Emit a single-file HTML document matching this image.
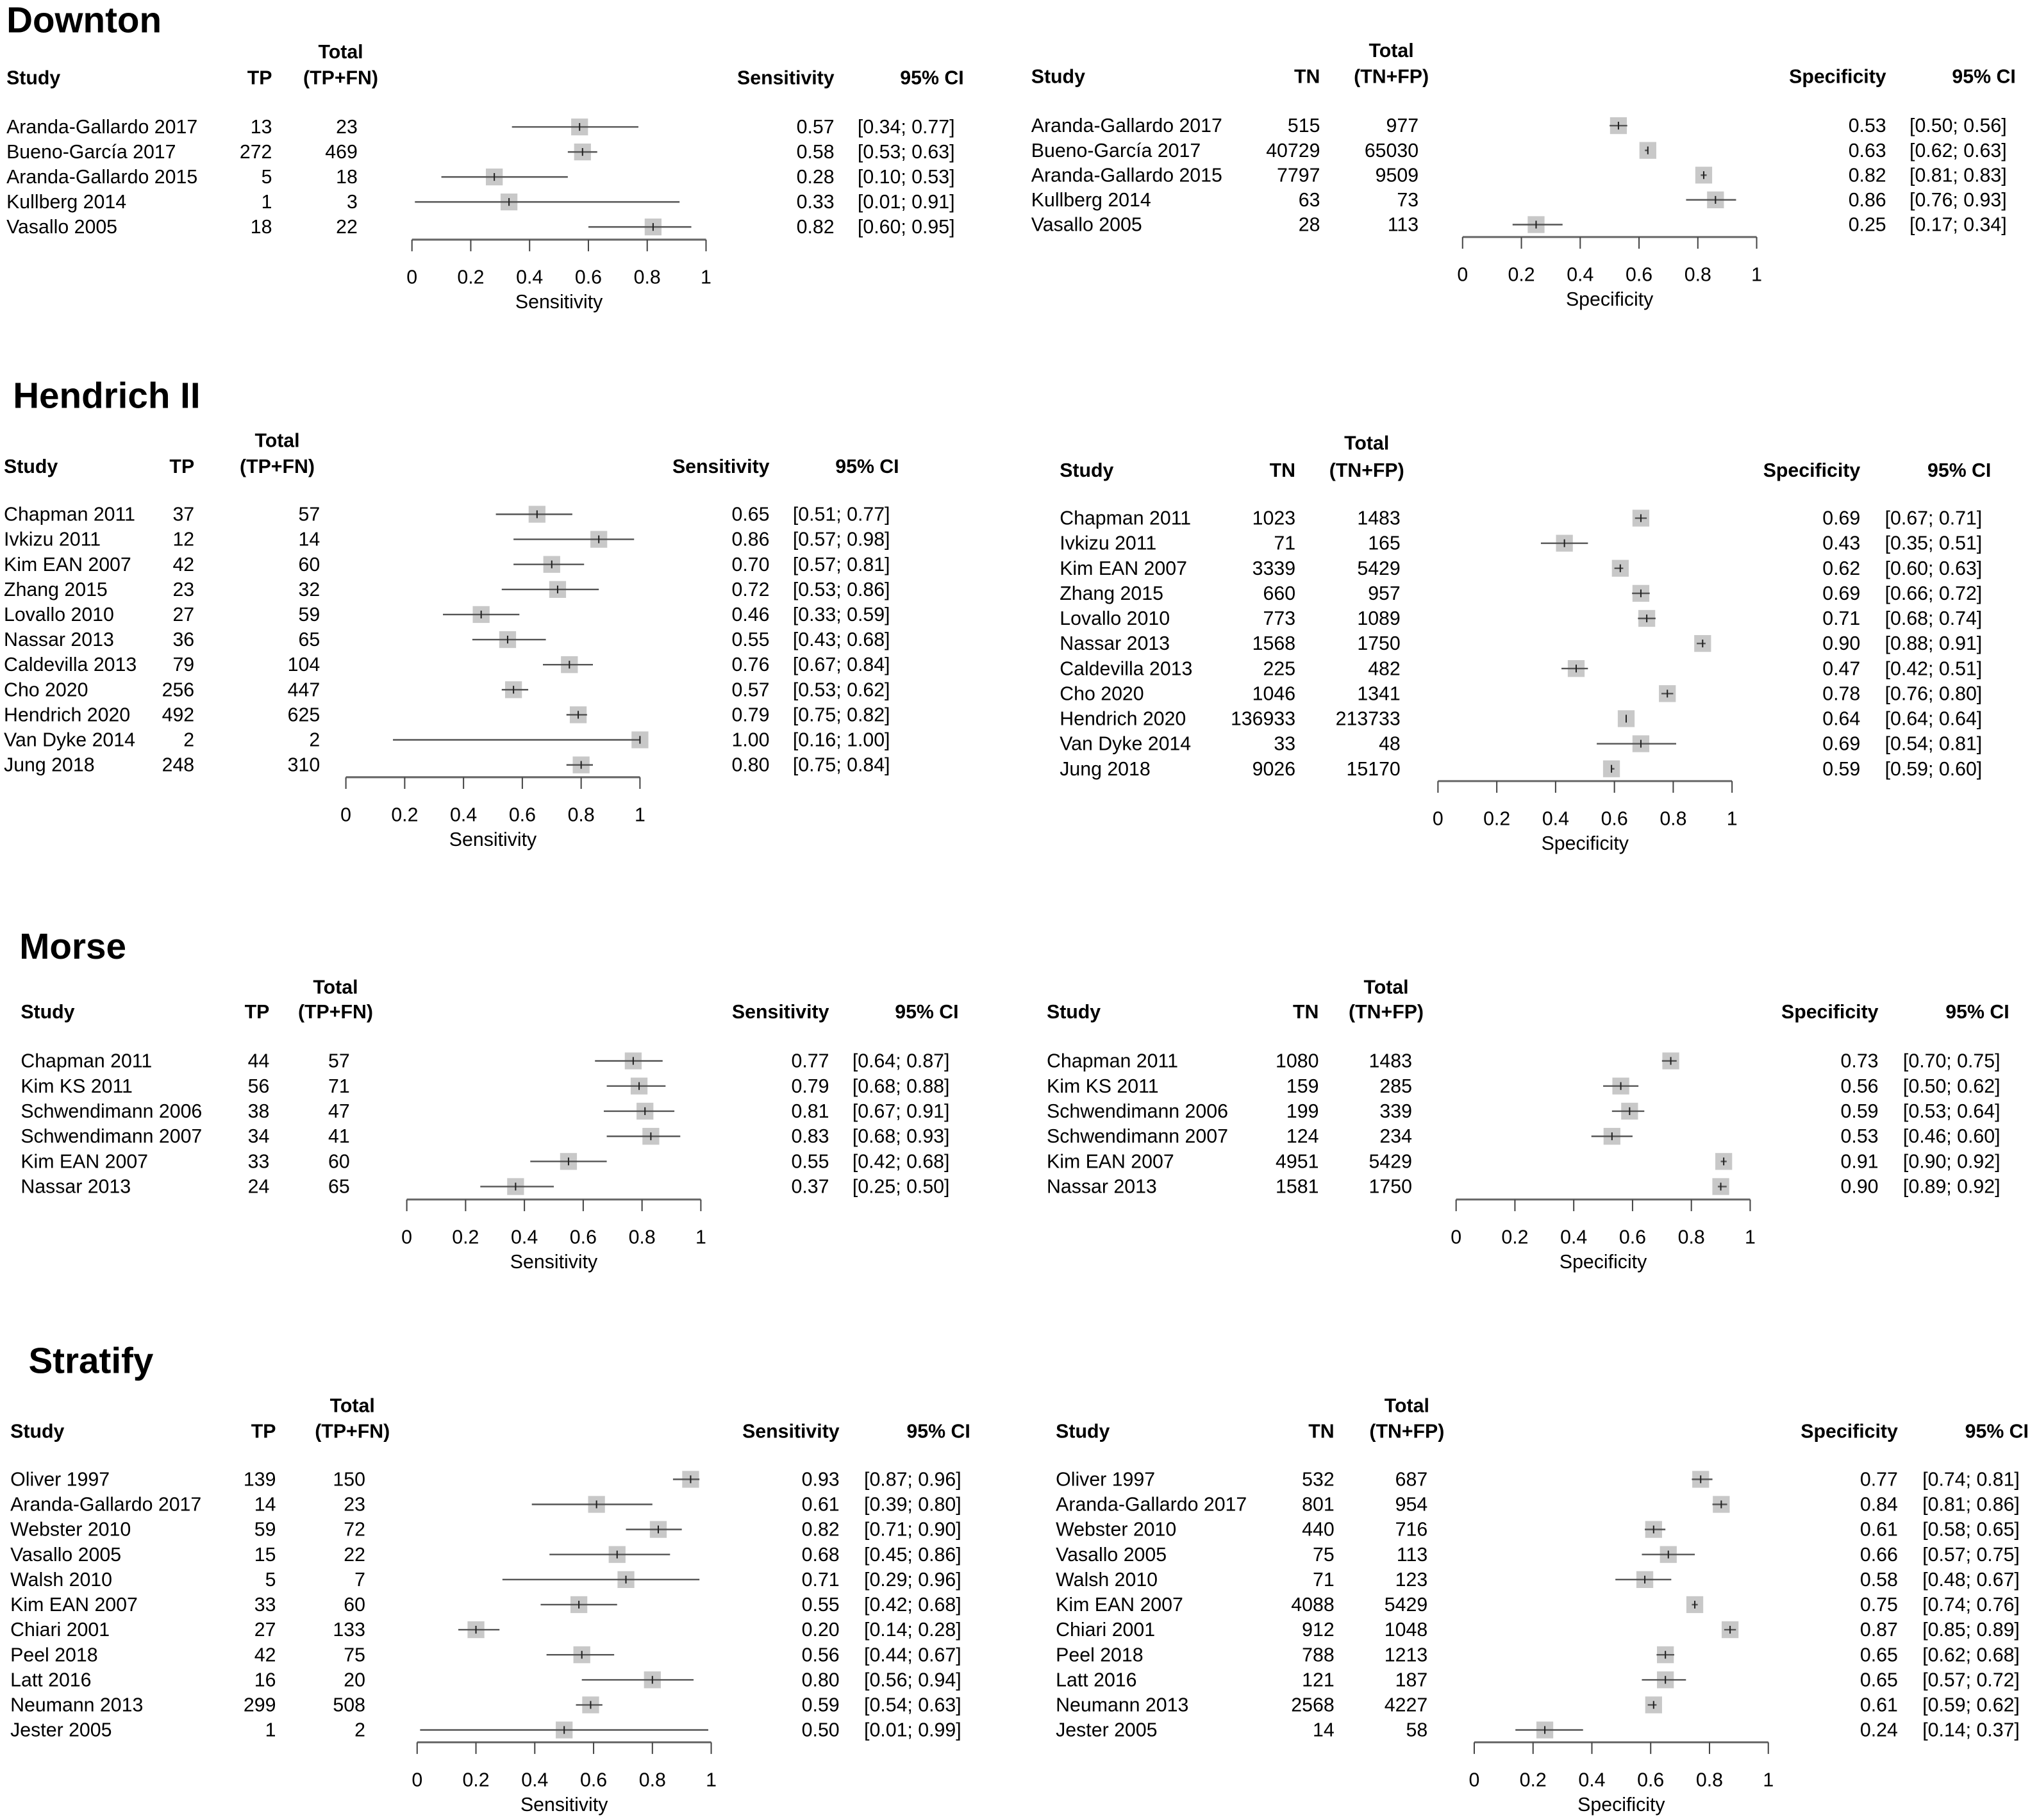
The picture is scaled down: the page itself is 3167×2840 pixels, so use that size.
<!DOCTYPE html>
<html><head><meta charset="utf-8">
<style>
html,body{margin:0;padding:0;background:#fff;}
svg{display:block;font-family:"Liberation Sans",sans-serif;}
</style></head>
<body>
<svg id="chart" width="3167" height="2840" viewBox="0 0 1567 1405" preserveAspectRatio="none" xmlns="http://www.w3.org/2000/svg"></svg>
<script>
// ---- data ----
const downtonStudies = ["Aranda-Gallardo 2017","Bueno-García 2017","Aranda-Gallardo 2015","Kullberg 2014","Vasallo 2005"];
const downtonSensTP = [13,272,5,1,18];
const downtonSensTot = [23,469,18,3,22];
const downtonSensEst = [0.57,0.58,0.28,0.33,0.82];
const downtonSensLo = [0.34,0.53,0.10,0.01,0.60];
const downtonSensHi = [0.77,0.63,0.53,0.91,0.95];
const downtonSpecTN = [515,40729,7797,63,28];
const downtonSpecTot = [977,65030,9509,73,113];
const downtonSpecEst = [0.53,0.63,0.82,0.86,0.25];
const downtonSpecLo = [0.50,0.62,0.81,0.76,0.17];
const downtonSpecHi = [0.56,0.63,0.83,0.93,0.34];

const hendrichStudies = ["Chapman 2011","Ivkizu 2011","Kim EAN 2007","Zhang 2015","Lovallo 2010","Nassar 2013","Caldevilla 2013","Cho 2020","Hendrich 2020","Van Dyke 2014","Jung 2018"];
const hendrichSensTP = [37,12,42,23,27,36,79,256,492,2,248];
const hendrichSensTot = [57,14,60,32,59,65,104,447,625,2,310];
const hendrichSensEst = [0.65,0.86,0.70,0.72,0.46,0.55,0.76,0.57,0.79,1.00,0.80];
const hendrichSensLo = [0.51,0.57,0.57,0.53,0.33,0.43,0.67,0.53,0.75,0.16,0.75];
const hendrichSensHi = [0.77,0.98,0.81,0.86,0.59,0.68,0.84,0.62,0.82,1.00,0.84];
const hendrichSpecTN = [1023,71,3339,660,773,1568,225,1046,136933,33,9026];
const hendrichSpecTot = [1483,165,5429,957,1089,1750,482,1341,213733,48,15170];
const hendrichSpecEst = [0.69,0.43,0.62,0.69,0.71,0.90,0.47,0.78,0.64,0.69,0.59];
const hendrichSpecLo = [0.67,0.35,0.60,0.66,0.68,0.88,0.42,0.76,0.64,0.54,0.59];
const hendrichSpecHi = [0.71,0.51,0.63,0.72,0.74,0.91,0.51,0.80,0.64,0.81,0.60];

const morseStudies = ["Chapman 2011","Kim KS 2011","Schwendimann 2006","Schwendimann 2007","Kim EAN 2007","Nassar 2013"];
const morseSensTP = [44,56,38,34,33,24];
const morseSensTot = [57,71,47,41,60,65];
const morseSensEst = [0.77,0.79,0.81,0.83,0.55,0.37];
const morseSensLo = [0.64,0.68,0.67,0.68,0.42,0.25];
const morseSensHi = [0.87,0.88,0.91,0.93,0.68,0.50];
const morseSpecTN = [1080,159,199,124,4951,1581];
const morseSpecTot = [1483,285,339,234,5429,1750];
const morseSpecEst = [0.73,0.56,0.59,0.53,0.91,0.90];
const morseSpecLo = [0.70,0.50,0.53,0.46,0.90,0.89];
const morseSpecHi = [0.75,0.62,0.64,0.60,0.92,0.92];

const stratifyStudies = ["Oliver 1997","Aranda-Gallardo 2017","Webster 2010","Vasallo 2005","Walsh 2010","Kim EAN 2007","Chiari 2001","Peel 2018","Latt 2016","Neumann 2013","Jester 2005"];
const stratifySensTP = [139,14,59,15,5,33,27,42,16,299,1];
const stratifySensTot = [150,23,72,22,7,60,133,75,20,508,2];
const stratifySensEst = [0.93,0.61,0.82,0.68,0.71,0.55,0.20,0.56,0.80,0.59,0.50];
const stratifySensLo = [0.87,0.39,0.71,0.45,0.29,0.42,0.14,0.44,0.56,0.54,0.01];
const stratifySensHi = [0.96,0.80,0.90,0.86,0.96,0.68,0.28,0.67,0.94,0.63,0.99];
const stratifySpecTN = [532,801,440,75,71,4088,912,788,121,2568,14];
const stratifySpecTot = [687,954,716,113,123,5429,1048,1213,187,4227,58];
const stratifySpecEst = [0.77,0.84,0.61,0.66,0.58,0.75,0.87,0.65,0.65,0.61,0.24];
const stratifySpecLo = [0.74,0.81,0.58,0.57,0.48,0.74,0.85,0.62,0.57,0.59,0.14];
const stratifySpecHi = [0.81,0.86,0.65,0.75,0.67,0.76,0.89,0.68,0.72,0.62,0.37];

const tickValues = [0,0.2,0.4,0.6,0.8,1];
const tickLabels = ["0","0.2","0.4","0.6","0.8","1"];

// ---- layout ----
const svg = document.getElementById('chart');
const NS = 'http://www.w3.org/2000/svg';
function mk(tag, attrs, parent){
  const e = document.createElementNS(NS, tag);
  for (const k in attrs) e.setAttribute(k, attrs[k]);
  (parent||svg).appendChild(e);
  return e;
}
function txt(x,y,s,anchor,size,weight,parent){
  const t = mk('text',{x:x,y:y,'text-anchor':anchor||'start','font-size':size||15,'font-weight':weight||'normal',fill:'#000'},parent);
  t.textContent = s;
  return t;
}
function f2(v){return v.toFixed(2);}

const titles = [
  {t:"Downton",x:5,y:25},
  {t:"Hendrich II",x:10,y:315},
  {t:"Morse",x:15,y:740},
  {t:"Stratify",x:22,y:1060}
];
titles.forEach(o=>{
  const t = txt(o.x,o.y,o.t,'start',28,'bold');
  
  
});

const panels = [
  {name:'downton-sensitivity',studies:downtonStudies,c:downtonSensTP,tot:downtonSensTot,est:downtonSensEst,lo:downtonSensLo,hi:downtonSensHi,
   cn:'TP',tn:'(TP+FN)',mn:'Sensitivity',totY:45,hdrY:65,row0:98,dy:19.3,axisY:185,x0:318,x1:545,sx:5,cR:210,tR:276,tC:263,mR:644,ciL:662,ciR:744},
  {name:'downton-specificity',studies:downtonStudies,c:downtonSpecTN,tot:downtonSpecTot,est:downtonSpecEst,lo:downtonSpecLo,hi:downtonSpecHi,
   cn:'TN',tn:'(TN+FP)',mn:'Specificity',totY:44,hdrY:64,row0:97,dy:19.1,axisY:183,x0:1129,x1:1356,sx:796,cR:1019,tR:1095,tC:1074,mR:1456,ciL:1474,ciR:1556},
  {name:'hendrich-sensitivity',studies:hendrichStudies,c:hendrichSensTP,tot:hendrichSensTot,est:hendrichSensEst,lo:hendrichSensLo,hi:hendrichSensHi,
   cn:'TP',tn:'(TP+FN)',mn:'Sensitivity',totY:345,hdrY:365,row0:397,dy:19.35,axisY:600,x0:267,x1:494,sx:3,cR:150,tR:247,tC:214,mR:594,ciL:612,ciR:694},
  {name:'hendrich-specificity',studies:hendrichStudies,c:hendrichSpecTN,tot:hendrichSpecTot,est:hendrichSpecEst,lo:hendrichSpecLo,hi:hendrichSpecHi,
   cn:'TN',tn:'(TN+FP)',mn:'Specificity',totY:347,hdrY:368,row0:400,dy:19.35,axisY:603,x0:1110,x1:1337,sx:818,cR:1000,tR:1081,tC:1055,mR:1436,ciL:1455,ciR:1537},
  {name:'morse-sensitivity',studies:morseStudies,c:morseSensTP,tot:morseSensTot,est:morseSensEst,lo:morseSensLo,hi:morseSensHi,
   cn:'TP',tn:'(TP+FN)',mn:'Sensitivity',totY:767,hdrY:786,row0:819,dy:19.4,axisY:926,x0:314,x1:541,sx:16,cR:208,tR:270,tC:259,mR:640,ciL:658,ciR:740},
  {name:'morse-specificity',studies:morseStudies,c:morseSpecTN,tot:morseSpecTot,est:morseSpecEst,lo:morseSpecLo,hi:morseSpecHi,
   cn:'TN',tn:'(TN+FP)',mn:'Specificity',totY:767,hdrY:786,row0:819,dy:19.4,axisY:926,x0:1124,x1:1351,sx:808,cR:1018,tR:1090,tC:1070,mR:1450,ciL:1469,ciR:1551},
  {name:'stratify-sensitivity',studies:stratifyStudies,c:stratifySensTP,tot:stratifySensTot,est:stratifySensEst,lo:stratifySensLo,hi:stratifySensHi,
   cn:'TP',tn:'(TP+FN)',mn:'Sensitivity',totY:1090,hdrY:1110,row0:1142,dy:19.35,axisY:1345,x0:322,x1:549,sx:8,cR:213,tR:282,tC:272,mR:648,ciL:667,ciR:749},
  {name:'stratify-specificity',studies:stratifyStudies,c:stratifySpecTN,tot:stratifySpecTot,est:stratifySpecEst,lo:stratifySpecLo,hi:stratifySpecHi,
   cn:'TN',tn:'(TN+FP)',mn:'Specificity',totY:1090,hdrY:1110,row0:1142,dy:19.35,axisY:1345,x0:1138,x1:1365,sx:815,cR:1030,tR:1102,tC:1086,mR:1465,ciL:1484,ciR:1566}
];

panels.forEach(p=>{
  const g = mk('g',{});
  
  
  const xs = v => p.x0 + v*(p.x1-p.x0);
  const hs = [
    [p.sx,p.hdrY,'Study','start'],
    [p.cR,p.hdrY,p.cn,'end'],
    [p.tC,p.totY,'Total','middle'],
    [p.tC,p.hdrY,p.tn,'middle'],
    [p.mR,p.hdrY,p.mn,'end'],
    [p.ciR,p.hdrY,'95% CI','end']
  ];
  hs.forEach(h=>{
    const t = txt(h[0],h[1],h[2],h[3],15,'bold',g);
    
    
  });
  p.studies.forEach((s,i)=>{
    const y = p.row0 + i*p.dy;
    const ty = y+5;
    let t = txt(p.sx,ty,s,'start',15,'normal',g);
    
    
    t = txt(p.cR,ty,String(p.c[i]),'end',15,'normal',g);
    
    
    t = txt(p.tR,ty,String(p.tot[i]),'end',15,'normal',g);
    
    
    t = txt(p.mR,ty,f2(p.est[i]),'end',15,'normal',g);
    
    
    t = txt(p.ciL,ty,'['+f2(p.lo[i])+'; '+f2(p.hi[i])+']','start',15,'normal',g);
    
    
    const cx = xs(p.est[i]);
    const sq = mk('rect',{x:cx-6.5,y:y-6.5,width:13,height:13,fill:'#c8c8c8'},g);
    
    
    const ln = mk('line',{x1:xs(p.lo[i]),x2:xs(p.hi[i]),y1:y,y2:y,stroke:'#555',"stroke-width":1.2},g);
    
    
    const tk = mk('line',{x1:cx,x2:cx,y1:y-3,y2:y+3,stroke:'#222',"stroke-width":1},g);
    
    
  });
  const ax = mk('line',{x1:p.x0,x2:p.x1,y1:p.axisY,y2:p.axisY,stroke:'#666',"stroke-width":1.5},g);
  
  
  tickValues.forEach((v,k)=>{
    const x = xs(v);
    const tl = mk('line',{x1:x,x2:x,y1:p.axisY,y2:p.axisY+9,stroke:'#444',"stroke-width":1},g);
    
    
    const lb = txt(x,p.axisY+34,tickLabels[k],'middle',15,'normal',g);
    
    
  });
  const at = txt((p.x0+p.x1)/2,p.axisY+53,p.mn,'middle',15,'normal',g);
  
  
});
</script>
</body></html>
